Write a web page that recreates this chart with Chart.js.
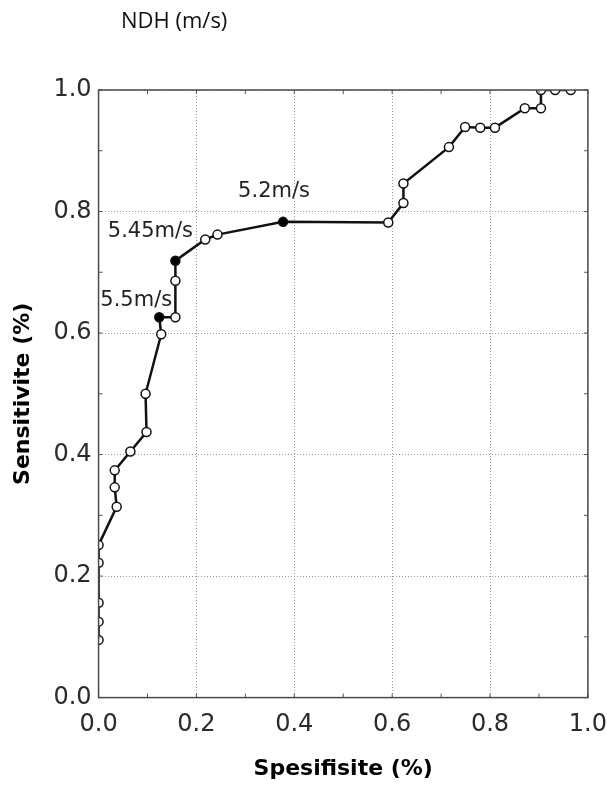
<!DOCTYPE html>
<html>
<head>
<meta charset="utf-8">
<script src="https://cdn.jsdelivr.net/npm/chart.js@4/dist/chart.umd.min.js"></script>
<style>
  body { margin: 0; background: #fff; }
</style>
</head>
<body>
<canvas id="roc" width="607" height="785"></canvas>
<script>
// ROC points
const specificity = [0, 0, 0, 0, 0, 0.037, 0.033, 0.033, 0.065, 0.098, 0.096, 0.128, 0.124, 0.157, 0.157, 0.157,
  0.218, 0.243, 0.377, 0.592, 0.623, 0.623, 0.716, 0.749, 0.780, 0.810, 0.871, 0.904, 0.904, 0.933, 0.965];
const sensitivity = [0.095, 0.125, 0.156, 0.222, 0.251, 0.314, 0.346, 0.374, 0.405, 0.437, 0.50, 0.598, 0.626, 0.626, 0.686, 0.719,
  0.754, 0.762, 0.783, 0.782, 0.814, 0.846, 0.906, 0.939, 0.938, 0.938, 0.970, 0.970, 1.0, 1.0, 1.0];
const cutoffIndex = [12, 15, 18];
const cutoffLabels = ['5.5m/s', '5.45m/s', '5.2m/s'];
const tickValues = [0, 0.2, 0.4, 0.6, 0.8, 1.0];

const chartTitle = 'NDH (m/s)';
const xTitle = 'Spesifisite (%)';
const yTitle = 'Sensitivite (%)';

// text offsets of the cut-off labels from their points (px)
const labelOffsets = [[-23, -17], [-25, -29], [-9, -30]];

const points = specificity.map((x, i) => ({x: x, y: sensitivity[i]}));
const fills = points.map((p, i) => cutoffIndex.includes(i) ? '#000' : '#fff');

// clip the markers to the plot box so the ones on the edges show as half circles
const clipBox = {
  id: 'clipBox',
  beforeDatasetsDraw(chart) {
    const a = chart.chartArea;
    chart.ctx.save();
    chart.ctx.beginPath();
    chart.ctx.rect(a.left, a.top, a.right - a.left, a.bottom - a.top);
    chart.ctx.clip();
  },
  afterDatasetsDraw(chart) {
    chart.ctx.restore();
  }
};

const frame = {
  id: 'frame',
  afterDraw(chart) {
    const c = chart.ctx;
    const a = chart.chartArea;
    const xs = chart.scales.x, ys = chart.scales.y;
    c.save();
    // minor inward ticks every 0.1
    c.strokeStyle = '#555';
    c.lineWidth = 1;
    for (let k = 0; k <= 10; k++) {
      const px = xs.getPixelForValue(k / 10);
      const py = ys.getPixelForValue(k / 10);
      c.beginPath();
      c.moveTo(px, a.bottom); c.lineTo(px, a.bottom - 4);
      c.moveTo(px, a.top); c.lineTo(px, a.top + 4);
      c.moveTo(a.left, py); c.lineTo(a.left + 4, py);
      c.moveTo(a.right, py); c.lineTo(a.right - 4, py);
      c.stroke();
    }
    c.strokeStyle = '#4a4a4a';
    c.lineWidth = 1.5;
    c.strokeRect(a.left, a.top, a.right - a.left, a.bottom - a.top);

    // cut-off labels
    const meta = chart.getDatasetMeta(0);
    c.fillStyle = '#222';
    c.font = '21px "DejaVu Sans"';
    c.textAlign = 'center';
    c.textBaseline = 'middle';
    cutoffIndex.forEach((idx, i) => {
      const el = meta.data[idx];
      c.fillText(cutoffLabels[i], el.x + labelOffsets[i][0], el.y + labelOffsets[i][1]);
    });

    // title
    c.fillStyle = '#111';
    c.font = '22px "Open Sans"';
    c.textAlign = 'left';
    c.fillText(chartTitle, 121, 22);
    c.restore();
  }
};

const axisCommon = {
  type: 'linear',
  min: 0,
  max: 1,
  grid: { color: '#9a9a9a', lineWidth: 1, drawTicks: false },
  border: { display: false, dash: [1, 2] },
  afterBuildTicks: (scale) => { scale.ticks = tickValues.map(v => ({value: v})); }
};

new Chart(document.getElementById('roc'), {
  type: 'line',
  data: {
    datasets: [{
      data: points,
      borderColor: '#111',
      borderWidth: 2.5,
      pointRadius: 4.5,
      pointBorderWidth: 1.5,
      pointBorderColor: '#111',
      pointBackgroundColor: fills,
      tension: 0
    }]
  },
  options: {
    responsive: false,
    animation: false,
    layout: { padding: { left: 0, right: 19, top: 90, bottom: 0 } },
    plugins: { legend: { display: false }, tooltip: { enabled: false } },
    scales: {
      x: Object.assign({}, axisCommon, {
        ticks: {
          padding: 0, maxRotation: 0, autoSkip: false, color: '#2a2a2a',
          font: { family: 'DejaVu Sans', size: 24, lineHeight: 2.25 },
          callback: (v) => Number(v).toFixed(1)
        },
        title: {
          display: true, text: xTitle, color: '#000',
          font: { family: 'DejaVu Sans', size: 22, weight: 'bold' },
          padding: { top: 4, bottom: 3 }
        }
      }),
      y: Object.assign({}, axisCommon, {
        ticks: {
          padding: 7, autoSkip: false, color: '#2a2a2a',
          font: { family: 'DejaVu Sans', size: 24 },
          callback: (v) => Number(v).toFixed(1)
        },
        title: {
          display: true, text: yTitle, color: '#000',
          font: { family: 'DejaVu Sans', size: 22, weight: 'bold' },
          padding: { top: 10, bottom: 10 }
        }
      })
    }
  },
  plugins: [clipBox, frame]
});
</script>
</body>
</html>
